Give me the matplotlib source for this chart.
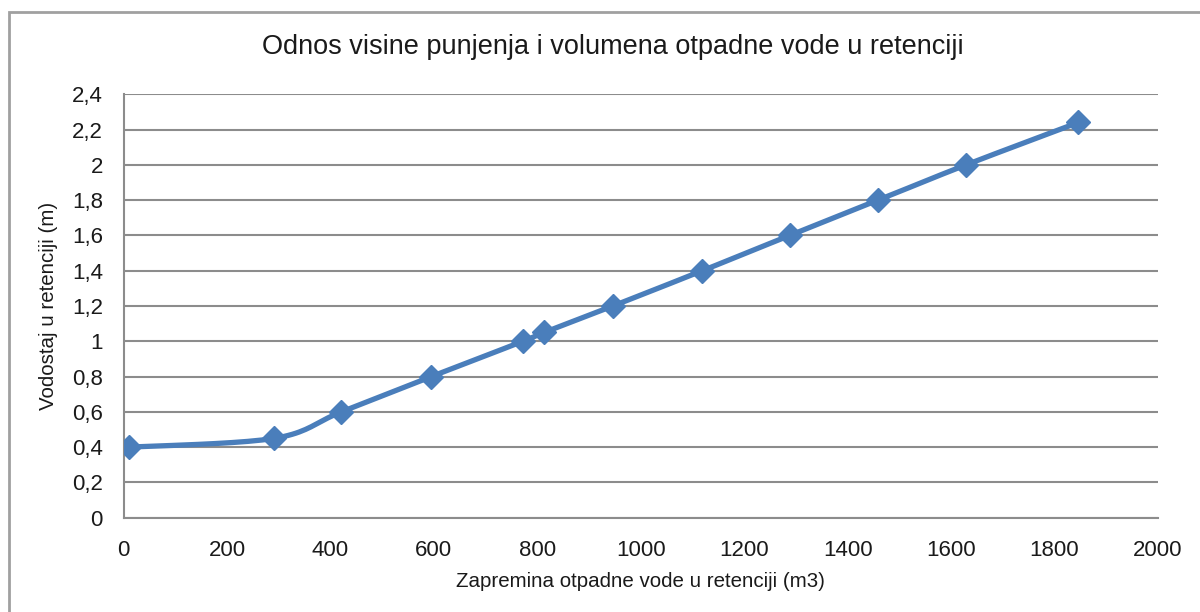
import numpy as np
import matplotlib
matplotlib.use("Agg")
import matplotlib.pyplot as plt
from matplotlib.patches import Rectangle
from matplotlib.ticker import FuncFormatter

# volumen (m3) i vodostaj (m), ocitano sa grafika
zapremina = [11, 291, 421, 595, 772, 813, 946, 1119, 1288, 1459, 1629, 1846]
vodostaj = [0.40, 0.45, 0.60, 0.80, 1.00, 1.05, 1.20, 1.40, 1.60, 1.80, 2.00, 2.24]

x_ticks = [0, 200, 400, 600, 800, 1000, 1200, 1400, 1600, 1800, 2000]
y_ticks = [0, 0.2, 0.4, 0.6, 0.8, 1.0, 1.2, 1.4, 1.6, 1.8, 2.0, 2.2, 2.4]

BLUE = "#4a7ebb"
GRID = "#8c8c8c"
TXT = "#1a1a1a"

plt.rcParams["font.family"] = ["Liberation Sans", "DejaVu Sans"]


def smooth(xs, ys, n=20):
    # catmull-rom, kao "smoothed line" u Excelu
    xs = np.asarray(xs, float)
    ys = np.asarray(ys, float)
    px = np.concatenate([[xs[0]], xs, [xs[-1]]])
    py = np.concatenate([[ys[0]], ys, [ys[-1]]])
    out_x, out_y = [], []
    t = np.linspace(0, 1, n, endpoint=False)
    for i in range(1, len(px) - 2):
        p0, p1, p2, p3 = [np.array([px[j], py[j]]) for j in (i - 1, i, i + 1, i + 2)]
        c1 = p1 + (p2 - p0) / 6.0
        c2 = p2 - (p3 - p1) / 6.0
        pts = ((1 - t) ** 3)[:, None] * p1 + (3 * (1 - t) ** 2 * t)[:, None] * c1 \
            + (3 * (1 - t) * t ** 2)[:, None] * c2 + (t ** 3)[:, None] * p2
        out_x.extend(pts[:, 0])
        out_y.extend(pts[:, 1])
    out_x.append(xs[-1])
    out_y.append(ys[-1])
    return out_x, out_y


fig = plt.figure(figsize=(12, 6.12), dpi=100)
ax = fig.add_axes([0.103, 0.154, 0.862, 0.692])

# okvir oko cijelog grafika
fig.patches.append(Rectangle((0.0075, -0.02), 1.05, 1.0, transform=fig.transFigure,
                             fill=False, edgecolor="#a0a0a0", linewidth=2))

sx, sy = smooth(zapremina, vodostaj)
ax.plot(sx, sy, color=BLUE, linewidth=3.8, solid_capstyle="round", zorder=3)
ax.plot(zapremina, vodostaj, linestyle="none", marker="D", markersize=12,
        color=BLUE, zorder=4)

ax.set_xlim(0, 2000)
ax.set_ylim(0, 2.4)
ax.set_xticks(x_ticks)
ax.set_yticks(y_ticks)
ax.yaxis.set_major_formatter(FuncFormatter(lambda v, p: ("%g" % round(v, 1)).replace(".", ",")))
ax.tick_params(length=0, labelsize=16, colors=TXT)
ax.tick_params(axis="x", pad=16)
ax.tick_params(axis="y", pad=15)

ax.grid(axis="y", color=GRID, linewidth=1.5)
ax.set_axisbelow(True)
for s in ("top", "right"):
    ax.spines[s].set_visible(False)
for s in ("left", "bottom"):
    ax.spines[s].set_color(GRID)
    ax.spines[s].set_linewidth(1.5)

fig.text(0.511, 1 - 47 / 612, "Odnos visine punjenja i volumena otpadne vode u retenciji",
         fontsize=19.5, ha="center", va="center", color=TXT)
ax.set_xlabel("Zapremina otpadne vode u retenciji (m3)", fontsize=14.8, labelpad=8,
              color=TXT)
ax.set_ylabel("Vodostaj u retenciji (m)", fontsize=14.8, labelpad=10, color=TXT)

fig.savefig("out.png", dpi=100)
